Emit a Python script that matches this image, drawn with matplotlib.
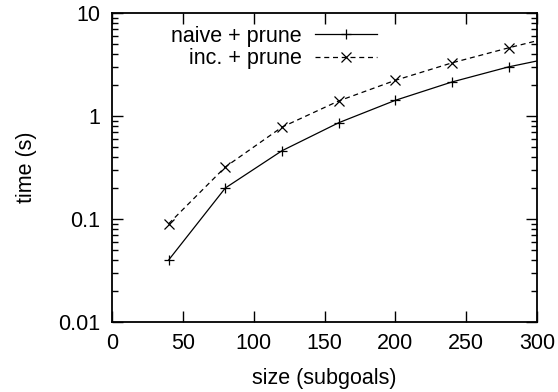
import matplotlib
matplotlib.use("Agg")
import matplotlib.pyplot as plt
from matplotlib.ticker import LogLocator, FixedLocator, NullFormatter

plt.rcParams['font.family'] = ['Liberation Sans', 'DejaVu Sans']

# data (last point lies beyond the x range, clipped)
sizes = [40, 80, 120, 160, 200, 240, 280, 320]
naive_prune = [0.040, 0.20, 0.46, 0.86, 1.42, 2.14, 3.0, 3.9]
inc_prune = [0.090, 0.32, 0.78, 1.40, 2.22, 3.28, 4.59, 6.3]
xticks = [0, 50, 100, 150, 200, 250, 300]
yticks = [0.01, 0.1, 1, 10]
ytick_labels = ['0.01', '0.1', '1', '10']

fs = 15.5

fig = plt.figure(figsize=(5.58, 3.92), dpi=100)
ax = fig.add_axes([112 / 558, 1 - 322 / 392, (537 - 112) / 558, (322 - 13) / 392])

ax.plot(sizes, naive_prune, color='black', lw=0.9, ls='-', marker='+',
        ms=7.5, mew=0.9, label='naive + prune')
ax.plot(sizes, inc_prune, color='black', lw=0.9, ls=(0, (4, 3)), marker='x',
        ms=7, mew=0.9, label='inc. + prune')

ax.set_yscale('log')
ax.set_xlim(0, 300)
ax.set_ylim(0.01, 10)
ax.set_xticks(xticks)
ax.set_xticklabels([str(t) for t in xticks])
ax.yaxis.set_major_locator(FixedLocator(yticks))
ax.set_yticklabels(ytick_labels)
ax.yaxis.set_minor_locator(LogLocator(base=10, subs=range(2, 10)))
ax.yaxis.set_minor_formatter(NullFormatter())

ax.tick_params(axis='both', which='major', direction='in', top=True, right=True,
               length=8, width=1, labelsize=fs, pad=8.5)
ax.tick_params(axis='y', which='minor', direction='in', right=True,
               length=4, width=1)
ax.tick_params(axis='x', which='major', pad=8)
for s in ax.spines.values():
    s.set_linewidth(1.3)

ax.set_xlabel('size (subgoals)', fontsize=fs, labelpad=10)
ax.set_ylabel('time (s)', fontsize=fs, labelpad=15)

leg = ax.legend(loc='upper right', bbox_to_anchor=(377 / 558, 1 - 26 / 392),
                bbox_transform=fig.transFigure, frameon=False,
                fontsize=fs, markerfirst=False, handlelength=2.9,
                handletextpad=0.6, labelspacing=0.05, borderaxespad=0,
                borderpad=0)
for t in leg.get_texts():
    t.set_ha('right')

fig.savefig('out.png', dpi=100)
